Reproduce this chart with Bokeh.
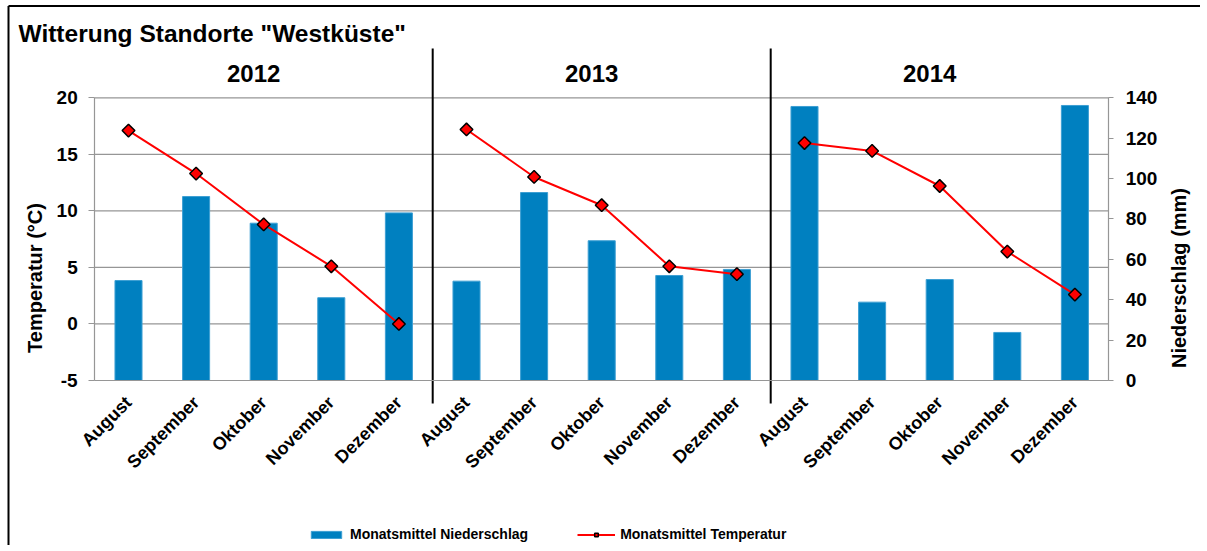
import math
from bokeh.plotting import figure
from bokeh.models import (Range1d, LinearAxis, FixedTicker, Label,
                          Legend, LegendItem)
from bokeh.embed import file_html
from bokeh.resources import INLINE

# ---------------- data ----------------
years = ["2012", "2013", "2014"]
months = ["August", "September", "Oktober", "November", "Dezember"]
niederschlag = [49.5, 91.1, 77.9, 41.0, 83.0,
                49.2, 93.1, 69.2, 52.0, 55.0,
                135.7, 38.8, 50.0, 23.8, 136.2]
temperatur = [17.1, 13.3, 8.8, 5.1, 0.0,
              17.2, 13.0, 10.5, 5.1, 4.4,
              16.0, 15.3, 12.2, 6.4, 2.6]
temp_ticks = [-5, 0, 5, 10, 15, 20]
precip_ticks = [0, 20, 40, 60, 80, 100, 120, 140]
title_text = 'Witterung Standorte "Westküste"'
temp_label = "Temperatur (°C)"
precip_label = "Niederschlag (mm)"
legend_precip = "Monatsmittel Niederschlag"
legend_temp = "Monatsmittel Temperatur"

# ---------------- layout (pixels) ----------------
FONT = "Liberation Sans"
BLUE = "#0080c0"
GRID = "#969696"
W, H = 1200, 545
PL, PR, PT, PB = 94.2, 1108.2, 97.3, 380.0   # plot area on canvas

n_m = len(months)
n = len(years) * n_m
xs = list(range(1, n + 1))
x_labels = months * len(years)

x0d, x1d = 0.5, n + 0.5
t0d, t1d = temp_ticks[0], temp_ticks[-1]
p0d, p1d = precip_ticks[0], precip_ticks[-1]


def xd(px):
    return x0d + (px - PL) * (x1d - x0d) / (PR - PL)


def yd(py):
    return t1d - (py - PT) * (t1d - t0d) / (PB - PT)


def pdv(py):
    return p1d - (py - PT) * (p1d - p0d) / (PB - PT)


p = figure(width=W, height=H,
           x_range=Range1d(xd(0), xd(W)),
           y_range=Range1d(yd(H), yd(0)),
           output_backend="svg", toolbar_location=None, min_border=0)
p.extra_y_ranges = {"precip": Range1d(pdv(H), pdv(0))}
p.outline_line_color = None
p.background_fill_color = "white"
p.border_fill_color = "white"
p.xgrid.visible = False
p.ygrid.visible = False

# ---- horizontal grid lines (plot area only)
p.segment(x0=[x0d] * len(temp_ticks), x1=[x1d] * len(temp_ticks),
          y0=temp_ticks, y1=temp_ticks, line_color=GRID, line_width=1.2)

# ---- x axis (fixed at bottom of plot area)
xa = p.xaxis[0]
xa.fixed_location = t0d
xa.bounds = (x0d, x1d)
xa.ticker = FixedTicker(ticks=xs)
xa.major_label_overrides = {x: lab for x, lab in zip(xs, x_labels)}
xa.major_label_orientation = math.pi / 4
xa.major_tick_line_color = None
xa.minor_tick_line_color = None
xa.axis_line_color = GRID
xa.axis_line_width = 1.2
xa.major_label_text_font = FONT
xa.major_label_text_font_style = "bold"
xa.major_label_text_font_size = "18px"
xa.major_label_text_color = "black"
xa.major_label_standoff = 13

# ---- left axis
ya = p.yaxis[0]
ya.fixed_location = x0d
ya.bounds = (t0d, t1d)
ya.ticker = FixedTicker(ticks=temp_ticks)
ya.major_label_overrides = {t: str(t) for t in temp_ticks}
ya.major_tick_in = 0
ya.major_tick_out = 6
ya.minor_tick_line_color = None
ya.major_tick_line_color = GRID
ya.axis_line_color = GRID
ya.axis_line_width = 1.2
ya.major_label_text_font = FONT
ya.major_label_text_font_style = "bold"
ya.major_label_text_font_size = "19px"
ya.major_label_text_color = "black"
ya.major_label_standoff = 11

# ---- right axis
ra = LinearAxis(y_range_name="precip", fixed_location=x1d,
                bounds=(p0d, p1d), ticker=FixedTicker(ticks=precip_ticks))
ra.major_label_overrides = {t: str(t) for t in precip_ticks}
ra.major_tick_in = 0
ra.major_tick_out = 5
ra.minor_tick_line_color = None
ra.major_tick_line_color = GRID
ra.axis_line_color = GRID
ra.axis_line_width = 1.2
ra.major_label_text_font = FONT
ra.major_label_text_font_style = "bold"
ra.major_label_text_font_size = "19px"
ra.major_label_text_color = "black"
ra.major_label_standoff = 12
p.add_layout(ra, "right")

# ---- marks
bars = p.vbar(x=xs, top=niederschlag, bottom=0, width=0.4,
              y_range_name="precip", fill_color=BLUE, line_color="#3d9fd3",
              line_width=1)
line_xs = [xs[k * n_m:(k + 1) * n_m] for k in range(len(years))]
line_ys = [temperatur[k * n_m:(k + 1) * n_m] for k in range(len(years))]
line = p.multi_line(line_xs, line_ys, line_color="#ff0000", line_width=2)
pts = p.scatter(xs, temperatur, marker="square", size=9, angle=math.pi / 4,
                fill_color="#ff0000", line_color="black", line_width=1.5)

# ---- separators between years
seps = [k * n_m + 0.5 for k in range(1, len(years))]
p.segment(x0=seps, x1=seps, y0=[yd(48)] * len(seps), y1=[yd(403)] * len(seps),
          line_color="black", line_width=2)

# ---- year labels
for k, yr in enumerate(years):
    xc = k * n_m + (n_m + 1) / 2
    p.add_layout(Label(x=xc, y=yd(73), x_offset=-10, text=yr,
                       text_font=FONT, text_font_style="bold",
                       text_font_size="24px", text_align="center",
                       text_baseline="middle", text_color="black"))

# ---- title
p.add_layout(Label(x=xd(18), y=yd(33), text=title_text, text_font=FONT,
                   text_font_style="bold", text_font_size="24.5px",
                   text_align="left", text_baseline="middle", text_color="black"))

# ---- axis titles
p.add_layout(Label(x=xd(34), y=yd(277.5), text=temp_label, angle=math.pi / 2,
                   text_font=FONT, text_font_style="bold", text_font_size="20px",
                   text_align="center", text_baseline="middle", text_color="black"))
p.add_layout(Label(x=xd(1178), y=yd(277.5), text=precip_label, angle=math.pi / 2,
                   text_font=FONT, text_font_style="bold", text_font_size="20px",
                   text_align="center", text_baseline="middle", text_color="black"))

# ---- outer chart border (top and left visible)
p.segment(x0=[xd(8), xd(8)], x1=[xd(8), xd(W)],
          y0=[yd(5.5), yd(5.5)], y1=[yd(H), yd(5.5)],
          line_color="black", line_width=2)

# ---- legend
legend = Legend(items=[LegendItem(label=legend_precip, renderers=[bars]),
                       LegendItem(label=legend_temp, renderers=[line, pts])],
                orientation="horizontal", location=(307, H - 543),
                glyph_width=38, glyph_height=9, label_standoff=5,
                label_height=18, spacing=49, padding=0, margin=0,
                border_line_color=None, background_fill_alpha=0,
                label_text_font=FONT, label_text_font_style="bold",
                label_text_font_size="14px", label_text_color="black")
p.add_layout(legend)

open("out.html", "w").write(file_html(p, INLINE))
